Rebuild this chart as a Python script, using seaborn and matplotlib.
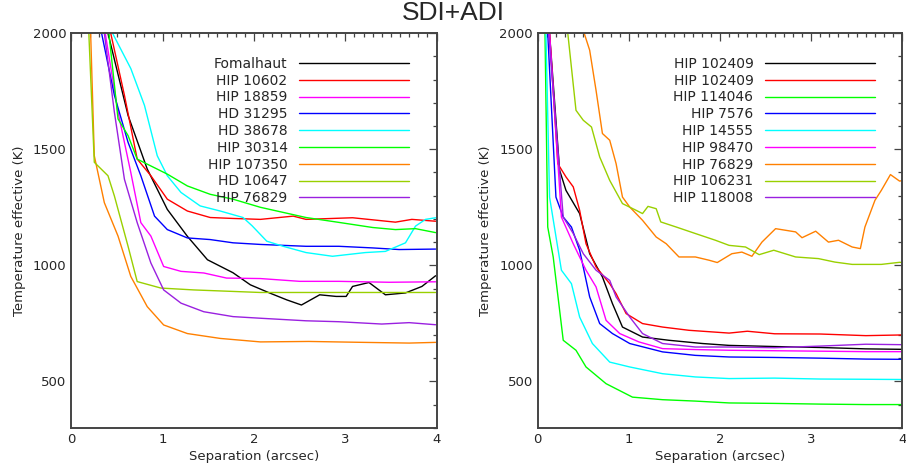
import matplotlib
matplotlib.use('Agg')
import matplotlib.pyplot as plt
import seaborn as sns
from matplotlib.ticker import MultipleLocator

# ---- left panel data (separation arcsec, temperature K) ----
fomalhaut_x = [0.40, 0.62, 0.83, 1.05, 1.27, 1.49, 1.77, 1.96, 2.17, 2.36, 2.52, 2.72, 2.90, 3.01, 3.08, 3.26, 3.44, 3.66, 3.84, 3.99]
fomalhaut_y = [2000, 1646, 1415, 1241, 1125, 1024, 968, 916, 881, 851, 829, 873, 866, 866, 909, 926, 873, 881, 909, 955]
hip10602_x = [0.43, 0.58, 0.72, 0.87, 1.05, 1.27, 1.52, 1.77, 2.07, 2.43, 2.57, 3.08, 3.55, 3.73, 3.99]
hip10602_y = [2000, 1733, 1458, 1386, 1285, 1234, 1206, 1202, 1198, 1212, 1198, 1205, 1186, 1198, 1190]
hip18859_x = [0.37, 0.51, 0.65, 0.76, 0.87, 1.01, 1.20, 1.45, 1.70, 2.07, 2.50, 2.93, 3.48, 3.99]
hip18859_y = [2000, 1660, 1400, 1184, 1126, 995, 974, 967, 945, 943, 931, 931, 927, 929]
hd31295_x = [0.33, 0.47, 0.62, 0.76, 0.91, 1.05, 1.27, 1.52, 1.77, 2.07, 2.57, 2.93, 3.30, 3.59, 3.99]
hd31295_y = [2000, 1733, 1530, 1386, 1212, 1154, 1118, 1111, 1097, 1090, 1082, 1082, 1075, 1068, 1070]
hd38678_x = [0.45, 0.65, 0.80, 0.94, 1.05, 1.20, 1.41, 1.63, 1.88, 1.98, 2.14, 2.32, 2.57, 2.86, 3.22, 3.44, 3.66, 3.77, 3.88, 3.99]
hd38678_y = [2000, 1848, 1689, 1472, 1386, 1314, 1256, 1234, 1206, 1170, 1104, 1082, 1055, 1039, 1055, 1060, 1097, 1169, 1198, 1205]
hip30314_x = [0.41, 0.51, 0.62, 0.72, 0.83, 1.05, 1.27, 1.52, 1.77, 2.07, 2.57, 2.93, 3.30, 3.55, 3.77, 3.99]
hip30314_y = [2000, 1631, 1559, 1458, 1436, 1393, 1342, 1306, 1285, 1250, 1206, 1185, 1163, 1154, 1158, 1141]
hip107350_x = [0.21, 0.25, 0.36, 0.51, 0.65, 0.83, 1.01, 1.27, 1.63, 2.07, 2.60, 3.20, 3.70, 3.99]
hip107350_y = [2000, 1472, 1270, 1126, 952, 822, 743, 706, 685, 670, 672, 668, 665, 668]
hd10647_x = [0.19, 0.25, 0.40, 0.47, 0.62, 0.72, 0.98, 1.34, 2.07, 3.00, 3.99]
hd10647_y = [2000, 1444, 1386, 1299, 1082, 930, 902, 894, 883, 883, 883]
hip76829_x = [0.36, 0.47, 0.58, 0.72, 0.87, 1.01, 1.20, 1.45, 1.77, 2.07, 2.57, 2.93, 3.40, 3.70, 3.99]
hip76829_y = [2000, 1660, 1371, 1184, 1010, 894, 837, 800, 779, 772, 761, 757, 747, 753, 744]

left_names = ['Fomalhaut', 'HIP 10602', 'HIP 18859', 'HD 31295', 'HD 38678',
              'HIP 30314', 'HIP 107350', 'HD 10647', 'HIP 76829']
left_x = [fomalhaut_x, hip10602_x, hip18859_x, hd31295_x, hd38678_x,
          hip30314_x, hip107350_x, hd10647_x, hip76829_x]
left_y = [fomalhaut_y, hip10602_y, hip18859_y, hd31295_y, hd38678_y,
          hip30314_y, hip107350_y, hd10647_y, hip76829_y]

# ---- right panel data ----
r_hip102409a_x = [0.13, 0.24, 0.31, 0.46, 0.57, 0.71, 0.82, 0.93, 1.15, 1.44, 1.81, 2.10, 2.60, 3.10, 3.60, 4.00]
r_hip102409a_y = [2000, 1410, 1323, 1223, 1050, 950, 835, 734, 691, 677, 663, 655, 650, 646, 640, 638]
r_hip102409b_x = [0.13, 0.22, 0.31, 0.39, 0.46, 0.53, 0.64, 0.79, 0.86, 0.97, 1.15, 1.37, 1.66, 2.10, 2.30, 2.60, 3.10, 3.60, 4.00]
r_hip102409b_y = [2000, 1438, 1381, 1338, 1237, 1093, 993, 921, 878, 792, 749, 734, 720, 708, 716, 705, 704, 697, 700]
r_hip114046_x = [0.08, 0.11, 0.17, 0.28, 0.42, 0.53, 0.75, 1.04, 1.37, 1.73, 2.10, 2.60, 3.10, 3.60, 4.00]
r_hip114046_y = [2000, 1165, 1036, 677, 634, 562, 490, 432, 421, 415, 407, 405, 402, 400, 400]
r_hip7576_x = [0.11, 0.20, 0.28, 0.37, 0.46, 0.57, 0.68, 0.82, 1.01, 1.37, 1.73, 2.10, 2.60, 3.10, 3.60, 4.00]
r_hip7576_y = [2000, 1294, 1208, 1165, 1065, 864, 749, 706, 663, 627, 612, 605, 603, 600, 596, 595]
r_hip14555_x = [0.09, 0.13, 0.26, 0.37, 0.46, 0.60, 0.79, 1.01, 1.37, 1.73, 2.10, 2.60, 3.10, 3.60, 4.00]
r_hip14555_y = [2000, 1294, 979, 921, 777, 663, 583, 562, 533, 519, 512, 514, 510, 509, 508]
r_hip98470_x = [0.13, 0.26, 0.39, 0.53, 0.64, 0.75, 0.90, 1.11, 1.37, 1.73, 2.10, 2.60, 3.10, 3.60, 4.00]
r_hip98470_y = [2000, 1208, 1093, 979, 907, 763, 706, 670, 641, 637, 634, 632, 630, 628, 628]
r_hip76829_x = [0.51, 0.57, 0.64, 0.71, 0.79, 0.86, 0.93, 1.01, 1.15, 1.30, 1.41, 1.55, 1.73, 1.88, 1.97, 2.13, 2.24, 2.35, 2.46, 2.61, 2.72, 2.83, 2.90, 3.05, 3.19, 3.30, 3.45, 3.54, 3.59, 3.70, 3.77, 3.87, 3.97, 4.00]
r_hip76829_y = [2000, 1927, 1754, 1568, 1539, 1438, 1294, 1251, 1194, 1122, 1093, 1036, 1036, 1022, 1012, 1050, 1057, 1039, 1100, 1158, 1151, 1144, 1119, 1147, 1100, 1108, 1079, 1072, 1165, 1280, 1323, 1391, 1363, 1365]
r_hip106231_x = [0.33, 0.42, 0.50, 0.59, 0.68, 0.79, 0.93, 1.08, 1.15, 1.21, 1.30, 1.35, 1.52, 1.73, 1.95, 2.10, 2.28, 2.43, 2.59, 2.83, 3.08, 3.26, 3.45, 3.77, 3.97, 4.00]
r_hip106231_y = [2000, 1668, 1625, 1596, 1467, 1366, 1266, 1237, 1223, 1254, 1244, 1187, 1165, 1137, 1108, 1086, 1079, 1046, 1065, 1036, 1029, 1014, 1004, 1004, 1013, 1012]
r_hip118008_x = [0.12, 0.28, 0.39, 0.50, 0.64, 0.79, 0.86, 1.01, 1.15, 1.37, 1.73, 2.10, 2.60, 3.10, 3.60, 4.00]
r_hip118008_y = [2000, 1208, 1137, 1050, 979, 935, 864, 777, 706, 663, 648, 648, 645, 652, 660, 658]

right_names = ['HIP 102409', 'HIP 102409', 'HIP 114046', 'HIP 7576', 'HIP 14555',
               'HIP 98470', 'HIP 76829', 'HIP 106231', 'HIP 118008']
right_x = [r_hip102409a_x, r_hip102409b_x, r_hip114046_x, r_hip7576_x, r_hip14555_x,
           r_hip98470_x, r_hip76829_x, r_hip106231_x, r_hip118008_x]
right_y = [r_hip102409a_y, r_hip102409b_y, r_hip114046_y, r_hip7576_y, r_hip14555_y,
           r_hip98470_y, r_hip76829_y, r_hip106231_y, r_hip118008_y]

left_colors = ['#000000', '#ff0000', '#ff00ff', '#0000ff', '#00ffff',
               '#00ff00', '#ff8000', '#99d000', '#9a20e0']
right_colors = ['#000000', '#ff0000', '#00ff00', '#0000ff', '#00ffff',
                '#ff00ff', '#ff8000', '#99d000', '#9a20e0']

sns.set_style('white')
plt.rcParams['font.family'] = ['DejaVu Sans']

fig = plt.figure(figsize=(9.06, 4.69), dpi=100)
ax1 = fig.add_axes([0.0789, 0.0879, 0.4029, 0.8412])
ax2 = fig.add_axes([0.5935, 0.0879, 0.4024, 0.8412])


def draw_panel(ax, xs, ys, names, colors):
    for x, y, name, c in zip(xs, ys, names, colors):
        sns.lineplot(x=x, y=y, color=c, label=name, ax=ax, linewidth=1.0, sort=False)
    ax.set_xlim(0, 4)
    ax.set_ylim(300, 2000)
    ax.xaxis.set_major_locator(MultipleLocator(1))
    ax.xaxis.set_minor_locator(MultipleLocator(0.1))
    ax.yaxis.set_major_locator(MultipleLocator(500))
    ax.yaxis.set_minor_locator(MultipleLocator(100))
    ax.tick_params(which='both', direction='in', top=True, right=True,
                   color='#444444', width=0.9, labelsize=9.5)
    ax.tick_params(which='major', length=6)
    ax.tick_params(axis='x', which='major', pad=4)
    ax.tick_params(axis='y', which='major', pad=3.5)
    ax.tick_params(which='minor', length=3)
    for s in ax.spines.values():
        s.set_color('#444444')
        s.set_linewidth(1.4)
    ax.set_xlabel('Separation (arcsec)', fontsize=9.5, labelpad=3)
    ax.set_ylabel('Temperature effective (K)', fontsize=9.5, labelpad=5)
    ax.legend(loc='upper right', bbox_to_anchor=(0.925, 0.94), frameon=False,
              markerfirst=False, handlelength=7.9, handletextpad=0.85,
              labelspacing=0.2, fontsize=10, borderpad=0, borderaxespad=0)


draw_panel(ax1, left_x, left_y, left_names, left_colors)
draw_panel(ax2, right_x, right_y, right_names, right_colors)

fig.suptitle('SDI+ADI', y=0.997, va='top', fontsize=19,
             family=['Liberation Sans Narrow', 'Liberation Sans', 'DejaVu Sans'])

fig.savefig('out.png', dpi=100, facecolor='white')
